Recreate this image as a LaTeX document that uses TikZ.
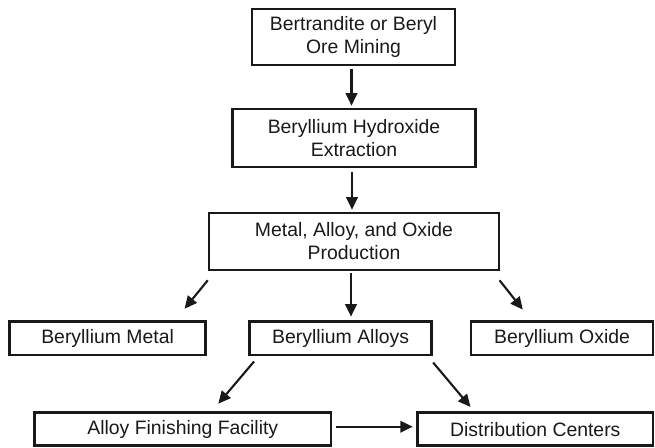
\documentclass[tikz,border=0pt]{standalone}
\usepackage{fontspec}
\setmainfont{Liberation Sans}
\usetikzlibrary{arrows.meta}
\begin{document}
\begin{tikzpicture}[x=1pt,y=-1pt,
  box/.style={draw=black!90,line width=2.6pt,align=center,inner sep=0pt,
    font=\fontsize{19.4}{23}\selectfont,text=black!90},
  arr/.style={line width=2.1pt,draw=black!90,-{Triangle[length=12.5pt,width=11.5pt]}}]
\useasboundingbox (0,0) rectangle (655,447);
\node[box,minimum width=203pt,minimum height=56pt] (b1) at (353.5,37) {Bertrandite or Beryl\\Ore Mining};
\node[box,minimum width=243pt,minimum height=58pt] (b2) at (354,138) {Beryllium Hydroxide\\Extraction};
\node[box,minimum width=290pt,minimum height=57pt] (b3) at (354,241.5) {Metal, Alloy, and Oxide\\Production};
\node[box,minimum width=196pt,minimum height=33.5pt] (m) at (107.6,338.4) {Beryllium Metal};
\node[box,minimum width=182pt,minimum height=33.5pt] (al) at (340.6,338.4) {Beryllium Alloys};
\node[box,minimum width=182pt,minimum height=33.5pt] (ox) at (562,338.4) {Beryllium Oxide};
\node[box,minimum width=296.5pt,minimum height=33pt] (af) at (182.8,429.2) {Alloy Finishing Facility};
\node[box,minimum width=235.5pt,minimum height=33pt] (dc) at (535.3,429.2) {Distribution Centers};
\draw[arr,shorten <=3pt,shorten >=2pt] ([xshift=-2pt]b1.south) -- ([xshift=-2pt]b1.south |- b2.north);
\draw[arr,shorten <=4pt,shorten >=2pt] ([xshift=-2pt]b2.south) -- ([xshift=-2pt]b2.south |- b3.north);
\draw[arr,shorten <=11.6pt,shorten >=15pt] ([xshift=7.4pt]b3.south west) -- ([xshift=-31.8pt]m.north east);
\draw[arr,shorten <=2pt,shorten >=3.7pt] ([xshift=-3pt]b3.south) -- ([xshift=-3pt]b3.south |- al.north);
\draw[arr,shorten <=11.5pt,shorten >=13.7pt] ([xshift=-7.9pt]b3.south east) -- ([xshift=61.6pt]ox.north west);
\draw[arr,shorten <=6.6pt,shorten >=10.1pt] ([xshift=10pt]al.south west) -- ([xshift=-120.6pt]af.north east);
\draw[arr,shorten <=7.9pt,shorten >=5.8pt] ([xshift=-4.9pt]al.south east) -- ([xshift=58pt]dc.north west);
\draw[arr,shorten <=4pt,shorten >=3.5pt] ([yshift=2.5pt]af.east) -- ([yshift=2.5pt]dc.west);
\end{tikzpicture}
\end{document}
